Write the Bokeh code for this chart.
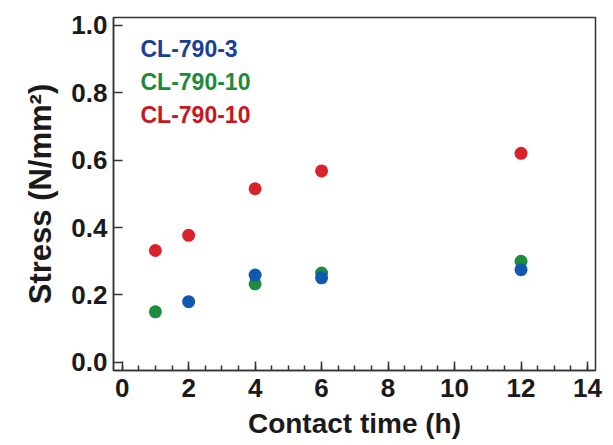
from bokeh.plotting import figure
from bokeh.models import Range1d, SingleIntervalTicker, PrintfTickFormatter, Label
from bokeh.embed import file_html
from bokeh.resources import INLINE

# Data
x_blue = [2, 4, 6, 12]
y_blue = [0.180, 0.259, 0.251, 0.275]
x_green = [1, 4, 6, 12]
y_green = [0.150, 0.233, 0.265, 0.300]
x_red = [1, 2, 4, 6, 12]
y_red = [0.332, 0.377, 0.515, 0.568, 0.620]

legend_labels = ["CL-790-3", "CL-790-10", "CL-790-10"]
legend_colors = ["#1a3f95", "#1d8a3a", "#c8161d"]

FONT = "Liberation Sans"

p = figure(frame_width=482, frame_height=353, output_backend="svg", toolbar_location=None,
           x_range=Range1d(-0.26, 14.24), y_range=Range1d(-0.024, 1.023),
           min_border_left=113, min_border_right=10, min_border_top=17, min_border_bottom=60)

p.grid.visible = False
p.background_fill_color = "white"
p.border_fill_color = "white"
p.outline_line_color = "#333333"
p.outline_line_width = 1.5

p.xaxis.ticker = SingleIntervalTicker(interval=2, num_minor_ticks=4)
p.yaxis.ticker = SingleIntervalTicker(interval=0.2, num_minor_ticks=0)
p.yaxis.formatter = PrintfTickFormatter(format="%.1f")

for ax in (p.xaxis[0], p.yaxis[0]):
    ax.axis_line_color = "#333333"
    ax.axis_line_width = 1.5
    ax.major_tick_line_color = "#333333"
    ax.major_tick_line_width = 1.5
    ax.major_tick_in = 9
    ax.major_tick_out = 0
    ax.minor_tick_line_color = "#333333"
    ax.minor_tick_line_width = 1.5
    ax.minor_tick_in = 5
    ax.minor_tick_out = 0
    ax.major_label_text_font = FONT
    ax.major_label_text_font_style = "bold"
    ax.major_label_text_font_size = "26px"
    ax.major_label_text_color = "#1a1a1a"
    ax.axis_label_text_font = FONT
    ax.axis_label_text_font_style = "bold"
    ax.axis_label_text_color = "#1a1a1a"

p.xaxis.axis_label_text_font_size = "28px"
p.yaxis.axis_label_text_font_size = "31px"
p.xaxis.axis_label = "Contact time (h)"
p.yaxis.axis_label = "Stress (N/mm²)"
p.xaxis.major_label_standoff = 8
p.yaxis.major_label_standoff = 6
p.xaxis.axis_label_standoff = 8
p.yaxis.axis_label_standoff = 10

p.scatter(x_red, y_red, size=13, color="#d9232b", line_color=None)
p.scatter(x_green, y_green, size=13, color="#1e8c3c", line_color=None)
p.scatter(x_blue, y_blue, size=13, color="#1058b0", line_color=None)

for i, (txt, col) in enumerate(zip(legend_labels, legend_colors)):
    p.add_layout(Label(x=27, y=322 - 33 * i, x_units="screen", y_units="screen",
                       text=txt, text_color=col, text_font=FONT, text_font_style="bold",
                       text_font_size="23px", text_baseline="middle"))

open("out.html", "w").write(file_html(p, INLINE))
